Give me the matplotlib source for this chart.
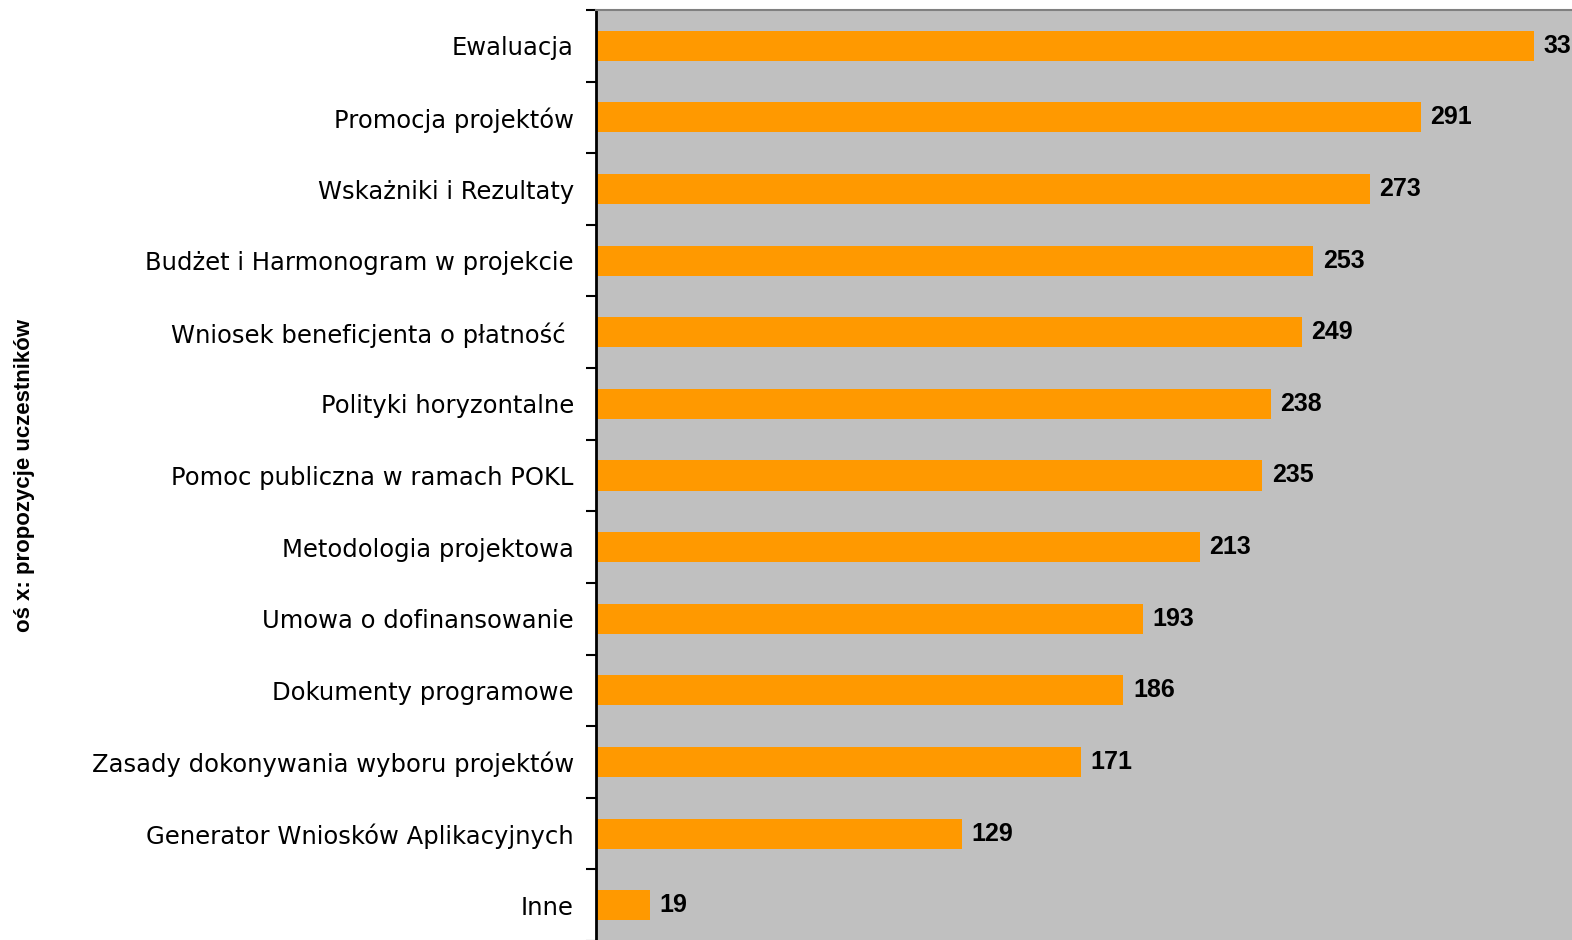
import matplotlib
matplotlib.use("Agg")
import matplotlib.pyplot as plt
from matplotlib.ticker import FixedLocator

categories = [
    "Ewaluacja",
    "Promocja projektów",
    "Wskażniki i Rezultaty",
    "Budżet i Harmonogram w projekcie",
    "Wniosek beneficjenta o płatność ",
    "Polityki horyzontalne",
    "Pomoc publiczna w ramach POKL",
    "Metodologia projektowa",
    "Umowa o dofinansowanie",
    "Dokumenty programowe",
    "Zasady dokonywania wyboru projektów",
    "Generator Wniosków Aplikacyjnych",
    "Inne",
]
values = [331, 291, 273, 253, 249, 238, 235, 213, 193, 186, 171, 129, 19]
y_label = "oś x: propozycje uczestników"

plt.rcParams['font.family'] = ['Liberation Sans', 'DejaVu Sans']

W, H = 1572, 940
fig = plt.figure(figsize=(W / 100, H / 100), dpi=100)
left = 596 / W
right = 1588 / W
top = 1 - 10 / H
bottom = 1 - 941 / H
ax = fig.add_axes([left, bottom, right - left, top - bottom])
ax.set_facecolor('#C0C0C0')

n = len(categories)
pos = list(range(n))
ax.barh(pos, values, height=0.42, color='#FF9900', zorder=2)
ax.set_ylim(n - 0.5, -0.5)
ax.set_xlim(0, 350)

ax.set_yticks(pos)
ax.set_yticklabels(categories, fontsize=17.5, family=['DejaVu Sans'])
ax.tick_params(axis='y', which='major', length=0, pad=16)
ax.yaxis.set_minor_locator(FixedLocator([i - 0.5 for i in range(n + 1)]))
ax.tick_params(axis='y', which='minor', length=7, width=1.5, direction='out', color='black')
ax.set_xticks([])

for s in ['right', 'bottom']:
    ax.spines[s].set_visible(False)
ax.spines['top'].set_color('#808080')
ax.spines['top'].set_linewidth(1.5)
ax.spines['left'].set_color('black')
ax.spines['left'].set_linewidth(2)

for p, v in zip(pos, values):
    ax.annotate(str(v), xy=(v, p), xytext=(7, 0), textcoords='offset points',
                ha='left', va='center', fontsize=18, fontweight='bold', color='black',
                annotation_clip=False)

fig.text(25 / W, 1 - 475 / H, y_label, rotation=90, ha='center', va='center',
         fontsize=16, fontweight='bold')

fig.savefig('out.png', dpi=100)
